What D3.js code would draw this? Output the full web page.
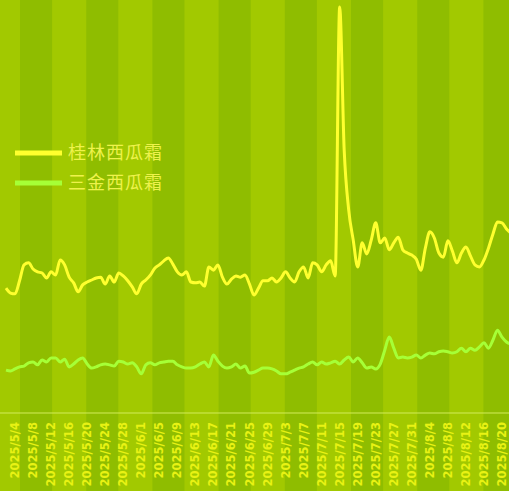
<!DOCTYPE html>
<html>
<head>
<meta charset="utf-8">
<script src="https://cdn.jsdelivr.net/npm/d3@7"></script>
<style>
  html, body { margin: 0; padding: 0; background: #a2c900; }
  svg { display: block; }
  .tick-label { font-family: "DejaVu Sans", sans-serif; font-weight: bold; font-size: 11.5px; fill: #e8f214; }
  .legend-text { font-family: "Noto Sans CJK SC", sans-serif; font-size: 18px; fill: #eef24c; }
</style>
</head>
<body>
<div id="chart"></div>
<script>
var width = 509, height = 491;
var axisY = 413;

// daily series, 2025/5/2 .. 2025/8/22
var startDate = "2025-05-02";
var guilin = [306, 294, 292, 324, 363, 368, 353, 346, 343, 331, 346, 338, 375, 363, 333, 319, 297, 314, 321, 326,
  331, 333, 316, 336, 321, 343, 336, 324, 309, 292, 316, 326, 338, 355, 363, 373, 380, 365, 346, 338,
  346, 321, 319, 321, 311, 358, 350, 363, 333, 316, 328, 336, 333, 338, 316, 289, 306, 324, 324, 331,
  321, 331, 346, 331, 321, 346, 358, 331, 368, 363, 346, 363, 373, 336, 995, 645, 498, 424, 358, 417,
  390, 424, 466, 417, 429, 400, 417, 431, 400, 392, 387, 377, 350, 404, 444, 429, 392, 382, 422, 397,
  368, 392, 407, 385, 363, 358, 375, 404, 439, 468, 466, 451, 441];
var sanjin = [105, 103, 108, 113, 115, 123, 125, 118, 130, 125, 135, 135, 125, 132, 113, 120, 130, 135, 120, 110,
  113, 118, 120, 118, 115, 127, 125, 120, 123, 113, 96, 118, 123, 118, 123, 125, 127, 127, 118, 113,
  110, 110, 113, 120, 125, 113, 142, 127, 115, 110, 113, 120, 110, 115, 98, 100, 105, 110, 110, 108,
  103, 96, 96, 100, 105, 110, 113, 120, 125, 118, 125, 120, 123, 127, 120, 130, 137, 125, 135, 123,
  110, 113, 108, 120, 154, 186, 159, 135, 137, 135, 137, 142, 135, 142, 147, 145, 150, 152, 150, 147,
  150, 159, 150, 159, 154, 162, 172, 159, 179, 203, 186, 174, 169];
var seriesNames = ["桂林西瓜霜", "三金西瓜霜"];
var seriesColors = ["#ffff2e", "#a6ff36"];
var tickLabels = ["2025/5/4", "2025/5/8", "2025/5/12", "2025/5/16", "2025/5/20", "2025/5/24", "2025/5/28",
  "2025/6/1", "2025/6/5", "2025/6/9", "2025/6/13", "2025/6/17", "2025/6/21", "2025/6/25", "2025/6/29",
  "2025/7/3", "2025/7/7", "2025/7/11", "2025/7/15", "2025/7/19", "2025/7/23", "2025/7/27", "2025/7/31",
  "2025/8/4", "2025/8/8", "2025/8/12", "2025/8/16", "2025/8/20"];

var parseIso = d3.utcParse("%Y-%m-%d");
var parseLabel = d3.utcParse("%Y/%m/%d");
var t0 = parseIso(startDate);
var dates = guilin.map(function(d, i) { return d3.utcDay.offset(t0, i); });

var x = d3.scaleUtc()
    .domain([t0, dates[dates.length - 1]])
    .range([6, 6 + 4.509 * (dates.length - 1)]);
var y = d3.scaleLinear().domain([0, 1000]).range([axisY, 5]);

var svg = d3.select("#chart").append("svg")
    .attr("width", width)
    .attr("height", height);

// striped background
var band = 33.1;
svg.append("rect").attr("width", width).attr("height", height).attr("fill", "#a2c900");
svg.selectAll(".band")
    .data(d3.range(20, width, band * 2))
    .enter().append("rect")
    .attr("class", "band")
    .attr("x", function(d) { return d; })
    .attr("y", 0)
    .attr("width", band - 1)
    .attr("height", height)
    .attr("fill", "#8fbd00");

// x axis
svg.append("line")
    .attr("x1", 0).attr("x2", width)
    .attr("y1", axisY).attr("y2", axisY)
    .attr("stroke", "#d2ec5a")
    .attr("stroke-width", 1);

svg.selectAll(".tick-label")
    .data(tickLabels)
    .enter().append("text")
    .attr("class", "tick-label")
    .attr("text-anchor", "end")
    .attr("dy", "0.35em")
    .attr("transform", function(d) { return "translate(" + x(parseLabel(d)) + "," + (axisY + 9) + ") rotate(-90)"; })
    .text(function(d) { return d; });

// lines
var line = d3.line()
    .curve(d3.curveMonotoneX)
    .x(function(d, i) { return x(dates[i]); })
    .y(function(d) { return y(d); });

[guilin, sanjin].forEach(function(s, i) {
    svg.append("path")
        .datum(s)
        .attr("fill", "none")
        .attr("stroke", seriesColors[i])
        .attr("stroke-width", 3)
        .attr("stroke-linejoin", "round")
        .attr("d", line);
});

// legend
var legend = svg.selectAll(".legend")
    .data(seriesNames)
    .enter().append("g")
    .attr("class", "legend")
    .attr("transform", function(d, i) { return "translate(15," + (153 + i * 30) + ")"; });
legend.append("line")
    .attr("x1", 0).attr("x2", 47)
    .attr("stroke", function(d, i) { return seriesColors[i]; })
    .attr("stroke-width", 5);
legend.append("text")
    .attr("class", "legend-text")
    .attr("x", 53)
    .attr("dy", "0.36em")
    .attr("letter-spacing", 1)
    .text(function(d) { return d; });
</script>
</body>
</html>
